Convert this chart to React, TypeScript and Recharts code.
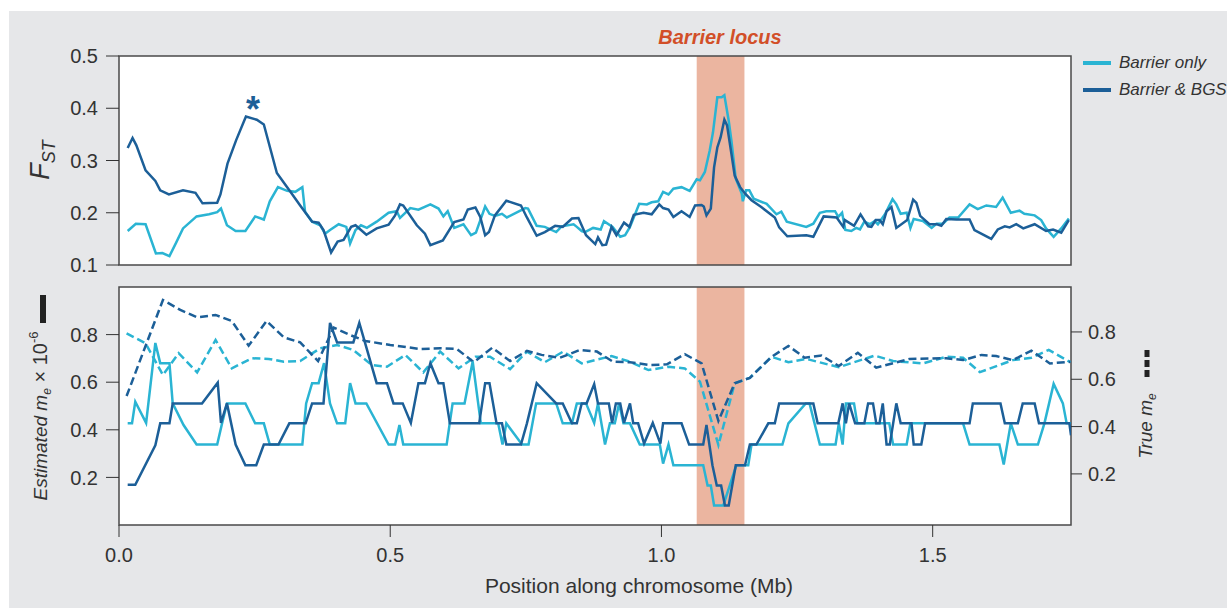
import React from 'react';
import { LineChart, Line, XAxis, YAxis, ReferenceArea } from 'recharts';

// ---- Data (x in Mb) ----
const xDomain: [number, number] = [0, 1.755];
const barrierLocus: [number, number] = [1.065, 1.153];
const fstTicks = [0.1, 0.2, 0.3, 0.4, 0.5];
const meTicks = [0.2, 0.4, 0.6, 0.8];
const posTicks = [0, 0.5, 1.0, 1.5];

const fstBarrierOnly: [number, number][] = [
  [0.016,0.165],[0.031,0.179],[0.049,0.178],[0.068,0.122],[0.080,0.123],[0.093,0.117],[0.104,0.140],[0.118,0.170],[0.143,0.193],[0.166,0.197],[0.181,0.201],[0.188,0.208],[0.199,0.176],[0.215,0.165],[0.233,0.165],[0.251,0.193],[0.267,0.187],[0.278,0.222],[0.293,0.249],[0.310,0.242],[0.325,0.240],[0.338,0.249],[0.343,0.202],[0.356,0.183],[0.371,0.176],[0.380,0.160],[0.389,0.167],[0.405,0.178],[0.419,0.173],[0.426,0.141],[0.436,0.167],[0.446,0.176],[0.457,0.171],[0.475,0.183],[0.497,0.200],[0.512,0.203],[0.518,0.190],[0.537,0.209],[0.552,0.206],[0.574,0.216],[0.589,0.208],[0.598,0.193],[0.606,0.203],[0.618,0.171],[0.635,0.178],[0.649,0.157],[0.658,0.162],[0.675,0.212],[0.683,0.198],[0.693,0.194],[0.706,0.198],[0.715,0.191],[0.749,0.209],[0.754,0.208],[0.770,0.175],[0.785,0.173],[0.806,0.163],[0.816,0.174],[0.838,0.178],[0.844,0.173],[0.853,0.165],[0.859,0.163],[0.874,0.171],[0.888,0.168],[0.894,0.184],[0.910,0.173],[0.924,0.154],[0.933,0.157],[0.942,0.173],[0.959,0.217],[0.973,0.216],[0.982,0.220],[0.994,0.222],[1.003,0.240],[1.013,0.235],[1.022,0.246],[1.037,0.249],[1.052,0.242],[1.065,0.264],[1.071,0.262],[1.080,0.278],[1.089,0.319],[1.095,0.354],[1.103,0.421],[1.111,0.421],[1.116,0.425],[1.124,0.376],[1.129,0.338],[1.137,0.265],[1.148,0.237],[1.150,0.222],[1.156,0.243],[1.162,0.243],[1.170,0.227],[1.194,0.217],[1.212,0.197],[1.221,0.202],[1.231,0.183],[1.267,0.173],[1.280,0.179],[1.292,0.200],[1.304,0.203],[1.320,0.203],[1.326,0.192],[1.333,0.200],[1.339,0.167],[1.350,0.165],[1.359,0.171],[1.366,0.168],[1.374,0.183],[1.384,0.178],[1.393,0.184],[1.399,0.178],[1.412,0.197],[1.426,0.226],[1.433,0.216],[1.441,0.198],[1.452,0.200],[1.459,0.171],[1.465,0.188],[1.482,0.184],[1.498,0.171],[1.507,0.179],[1.519,0.179],[1.531,0.191],[1.547,0.191],[1.568,0.216],[1.583,0.207],[1.599,0.214],[1.617,0.211],[1.629,0.229],[1.644,0.200],[1.660,0.204],[1.669,0.198],[1.688,0.195],[1.700,0.186],[1.709,0.170],[1.723,0.154],[1.737,0.170],[1.751,0.189],
];

const fstBarrierBgs: [number, number][] = [
  [0.016,0.324],[0.025,0.343],[0.032,0.329],[0.049,0.281],[0.067,0.261],[0.076,0.243],[0.092,0.235],[0.118,0.243],[0.141,0.238],[0.154,0.218],[0.181,0.219],[0.187,0.235],[0.200,0.294],[0.216,0.339],[0.234,0.384],[0.254,0.378],[0.267,0.369],[0.291,0.276],[0.316,0.240],[0.334,0.214],[0.356,0.183],[0.368,0.181],[0.377,0.167],[0.391,0.124],[0.403,0.145],[0.414,0.148],[0.428,0.173],[0.436,0.176],[0.456,0.158],[0.475,0.170],[0.497,0.177],[0.509,0.195],[0.518,0.216],[0.524,0.214],[0.549,0.176],[0.564,0.160],[0.574,0.138],[0.597,0.147],[0.618,0.182],[0.635,0.187],[0.643,0.206],[0.657,0.210],[0.666,0.192],[0.675,0.157],[0.682,0.163],[0.693,0.195],[0.714,0.223],[0.741,0.214],[0.752,0.191],[0.770,0.156],[0.785,0.163],[0.804,0.175],[0.818,0.173],[0.835,0.189],[0.847,0.190],[0.861,0.157],[0.878,0.140],[0.883,0.153],[0.891,0.138],[0.898,0.139],[0.908,0.173],[0.917,0.157],[0.931,0.181],[0.941,0.173],[0.949,0.196],[0.967,0.200],[0.982,0.197],[0.996,0.216],[1.003,0.209],[1.013,0.206],[1.022,0.192],[1.037,0.203],[1.052,0.192],[1.062,0.214],[1.074,0.215],[1.078,0.212],[1.083,0.195],[1.091,0.208],[1.097,0.287],[1.103,0.325],[1.109,0.344],[1.116,0.378],[1.121,0.367],[1.129,0.313],[1.135,0.271],[1.145,0.249],[1.154,0.237],[1.166,0.224],[1.184,0.211],[1.209,0.191],[1.217,0.172],[1.232,0.155],[1.267,0.157],[1.280,0.154],[1.299,0.193],[1.323,0.191],[1.335,0.173],[1.338,0.186],[1.355,0.175],[1.367,0.197],[1.381,0.174],[1.387,0.173],[1.395,0.186],[1.402,0.186],[1.408,0.178],[1.415,0.203],[1.424,0.211],[1.433,0.171],[1.453,0.186],[1.464,0.225],[1.470,0.219],[1.477,0.194],[1.494,0.178],[1.508,0.178],[1.516,0.175],[1.525,0.188],[1.544,0.187],[1.568,0.187],[1.577,0.167],[1.593,0.158],[1.608,0.150],[1.620,0.168],[1.633,0.174],[1.642,0.172],[1.654,0.178],[1.667,0.170],[1.688,0.178],[1.709,0.165],[1.722,0.168],[1.737,0.162],[1.751,0.186],
];

const estMeBarrierOnly: [number, number][] = [
  [0.016,0.427],[0.024,0.427],[0.030,0.518],[0.050,0.429],[0.067,0.765],[0.076,0.680],[0.093,0.680],[0.099,0.511],[0.119,0.420],[0.143,0.338],[0.181,0.338],[0.190,0.427],[0.199,0.511],[0.233,0.511],[0.251,0.427],[0.267,0.427],[0.278,0.338],[0.338,0.338],[0.345,0.511],[0.356,0.596],[0.368,0.596],[0.378,0.680],[0.389,0.511],[0.402,0.427],[0.417,0.427],[0.426,0.596],[0.436,0.511],[0.456,0.511],[0.497,0.338],[0.509,0.338],[0.517,0.420],[0.524,0.338],[0.604,0.338],[0.615,0.511],[0.637,0.511],[0.652,0.687],[0.667,0.427],[0.699,0.427],[0.707,0.338],[0.714,0.427],[0.743,0.338],[0.755,0.338],[0.769,0.511],[0.806,0.511],[0.818,0.427],[0.835,0.427],[0.844,0.511],[0.861,0.511],[0.876,0.429],[0.883,0.511],[0.896,0.338],[0.905,0.427],[0.914,0.427],[0.922,0.511],[0.930,0.427],[0.942,0.427],[0.960,0.338],[0.997,0.338],[1.003,0.258],[1.013,0.338],[1.022,0.251],[1.077,0.251],[1.085,0.166],[1.091,0.166],[1.097,0.082],[1.114,0.082],[1.138,0.251],[1.160,0.251],[1.166,0.338],[1.223,0.338],[1.234,0.427],[1.266,0.511],[1.273,0.511],[1.292,0.338],[1.321,0.338],[1.327,0.427],[1.334,0.338],[1.340,0.511],[1.355,0.511],[1.361,0.427],[1.420,0.427],[1.427,0.338],[1.452,0.338],[1.459,0.427],[1.556,0.427],[1.568,0.338],[1.623,0.338],[1.631,0.254],[1.644,0.427],[1.657,0.338],[1.694,0.338],[1.706,0.427],[1.723,0.593],[1.740,0.511],[1.747,0.427],[1.755,0.427],
];

const estMeBarrierBgs: [number, number][] = [
  [0.016,0.169],[0.030,0.169],[0.067,0.335],[0.076,0.427],[0.093,0.427],[0.099,0.511],[0.153,0.511],[0.182,0.598],[0.188,0.429],[0.199,0.511],[0.215,0.338],[0.233,0.251],[0.253,0.251],[0.267,0.338],[0.294,0.338],[0.314,0.427],[0.344,0.427],[0.356,0.511],[0.377,0.511],[0.389,0.849],[0.402,0.767],[0.432,0.767],[0.443,0.849],[0.475,0.596],[0.494,0.596],[0.506,0.511],[0.523,0.511],[0.538,0.429],[0.552,0.596],[0.564,0.596],[0.574,0.680],[0.589,0.596],[0.598,0.596],[0.610,0.427],[0.664,0.427],[0.675,0.596],[0.683,0.596],[0.696,0.427],[0.706,0.427],[0.714,0.338],[0.741,0.338],[0.752,0.427],[0.770,0.596],[0.806,0.511],[0.818,0.511],[0.835,0.427],[0.844,0.427],[0.853,0.511],[0.862,0.511],[0.876,0.592],[0.883,0.511],[0.903,0.511],[0.909,0.429],[0.916,0.511],[0.924,0.511],[0.931,0.429],[0.942,0.511],[0.948,0.427],[0.957,0.427],[0.968,0.342],[0.984,0.429],[0.998,0.342],[1.003,0.427],[1.037,0.427],[1.051,0.338],[1.077,0.338],[1.083,0.420],[1.094,0.251],[1.102,0.166],[1.110,0.166],[1.117,0.082],[1.124,0.082],[1.137,0.251],[1.154,0.251],[1.163,0.338],[1.175,0.338],[1.197,0.427],[1.209,0.427],[1.217,0.511],[1.280,0.511],[1.288,0.427],[1.326,0.427],[1.334,0.511],[1.340,0.427],[1.346,0.511],[1.357,0.427],[1.374,0.427],[1.381,0.511],[1.390,0.511],[1.396,0.427],[1.402,0.427],[1.408,0.511],[1.415,0.338],[1.421,0.338],[1.433,0.511],[1.441,0.427],[1.461,0.427],[1.465,0.338],[1.479,0.338],[1.486,0.427],[1.568,0.427],[1.574,0.511],[1.625,0.511],[1.633,0.427],[1.657,0.427],[1.666,0.511],[1.688,0.511],[1.696,0.427],[1.752,0.427],[1.755,0.377],
];

const trueMeBarrierOnly: [number, number][] = [
  [0.014,0.794],[0.049,0.752],[0.081,0.618],[0.110,0.710],[0.144,0.629],[0.178,0.766],[0.208,0.646],[0.245,0.689],[0.276,0.686],[0.304,0.674],[0.334,0.677],[0.371,0.731],[0.402,0.745],[0.432,0.724],[0.466,0.660],[0.494,0.653],[0.528,0.703],[0.561,0.629],[0.592,0.717],[0.626,0.646],[0.657,0.695],[0.684,0.695],[0.721,0.643],[0.752,0.717],[0.785,0.672],[0.819,0.717],[0.853,0.667],[0.908,0.698],[0.942,0.674],[0.976,0.639],[1.013,0.653],[1.043,0.646],[1.071,0.590],[1.105,0.322],[1.135,0.583],[1.163,0.606],[1.203,0.695],[1.234,0.672],[1.267,0.686],[1.327,0.651],[1.393,0.700],[1.427,0.677],[1.482,0.667],[1.525,0.695],[1.556,0.691],[1.587,0.630],[1.648,0.681],[1.682,0.691],[1.714,0.724],[1.754,0.672],
];

const trueMeBarrierBgs: [number, number][] = [
  [0.014,0.529],[0.081,0.935],[0.113,0.893],[0.144,0.862],[0.178,0.872],[0.208,0.846],[0.239,0.742],[0.272,0.846],[0.304,0.777],[0.334,0.756],[0.367,0.677],[0.396,0.818],[0.426,0.787],[0.454,0.762],[0.500,0.745],[0.555,0.728],[0.592,0.731],[0.623,0.728],[0.654,0.672],[0.688,0.733],[0.721,0.677],[0.752,0.720],[0.779,0.703],[0.813,0.691],[0.850,0.724],[0.881,0.717],[0.911,0.674],[0.942,0.672],[0.979,0.660],[1.010,0.663],[1.043,0.706],[1.074,0.667],[1.105,0.424],[1.135,0.583],[1.163,0.606],[1.203,0.695],[1.234,0.741],[1.264,0.691],[1.295,0.700],[1.327,0.656],[1.362,0.712],[1.396,0.649],[1.457,0.686],[1.525,0.689],[1.556,0.681],[1.590,0.703],[1.617,0.698],[1.648,0.681],[1.682,0.721],[1.716,0.667],[1.754,0.674],
];

// ---- Styling ----
const LIGHT = '#2ab4d3';
const DARK = '#1c5f98';
const BAND = '#ebb5a0';
const FRAME = '#4a4a4a';
const TXT = '#333333';
const FONT = '"Liberation Sans", Arial, Helvetica, sans-serif';

const toPts = (arr: [number, number][]) => arr.map(([x, y]) => ({ x, y }));
const fmt1 = (v: number) => v.toFixed(1);

const tickStyle = { fill: TXT, fontSize: 20, fontFamily: FONT };

export default function App() {
  return (
    <div style={{ position: 'absolute', left: 0, top: 0, width: 1227, height: 608, overflow: 'hidden', background: '#ffffff', fontFamily: FONT }}>
      <div style={{ position: 'absolute', left: 9, top: 11, right: 0, bottom: 0, background: '#e6e7e9' }} />

      {/* Top panel: FST */}
      <div style={{ position: 'absolute', left: 0, top: 0 }}>
        <LineChart width={1227} height={300} margin={{ top: 56, right: 156, bottom: 35, left: 59 }}>
          <XAxis type="number" dataKey="x" domain={xDomain} hide allowDataOverflow />
          <YAxis type="number" domain={[0.1, 0.5]} ticks={fstTicks} width={60} tickSize={13} tickMargin={8}
            axisLine={false} tickLine={{ stroke: TXT }} tick={tickStyle} tickFormatter={fmt1} allowDataOverflow />
          <ReferenceArea x1={xDomain[0]} x2={xDomain[1]} y1={0.1} y2={0.5} fill="#ffffff" fillOpacity={1} stroke="none" />
          <ReferenceArea x1={barrierLocus[0]} x2={barrierLocus[1]} y1={0.1} y2={0.5} fill={BAND} fillOpacity={1} stroke="none" />
          <Line data={toPts(fstBarrierOnly)} dataKey="y" type="linear" stroke={LIGHT} strokeWidth={2.5} dot={false} isAnimationActive={false} />
          <Line data={toPts(fstBarrierBgs)} dataKey="y" type="linear" stroke={DARK} strokeWidth={2.5} dot={false} isAnimationActive={false} />
          <ReferenceArea x1={xDomain[0]} x2={xDomain[1]} y1={0.1} y2={0.5} fill="none" stroke={FRAME} strokeWidth={1.5} />
        </LineChart>
      </div>

      {/* Bottom panel: m_e */}
      <div style={{ position: 'absolute', left: 0, top: 270 }}>
        <LineChart width={1227} height={338} margin={{ top: 17, right: 96, bottom: 43, left: 59 }}>
          <XAxis type="number" dataKey="x" domain={xDomain} ticks={posTicks} tickFormatter={fmt1} height={40}
            tickSize={12} tickMargin={11} axisLine={false} tickLine={{ stroke: TXT }} tick={tickStyle} allowDataOverflow />
          <YAxis yAxisId="left" type="number" domain={[0, 1.0]} ticks={meTicks} width={60} tickSize={13} tickMargin={8}
            axisLine={false} tickLine={{ stroke: TXT }} tick={tickStyle} tickFormatter={fmt1} allowDataOverflow />
          <YAxis yAxisId="right" orientation="right" type="number" domain={[-0.016, 0.99]} ticks={meTicks} width={60}
            tickSize={11} tickMargin={6} axisLine={false} tickLine={{ stroke: TXT }} tick={tickStyle} tickFormatter={fmt1} allowDataOverflow />
          <ReferenceArea yAxisId="left" x1={xDomain[0]} x2={xDomain[1]} y1={0} y2={1} fill="#ffffff" fillOpacity={1} stroke="none" />
          <ReferenceArea yAxisId="left" x1={barrierLocus[0]} x2={barrierLocus[1]} y1={0} y2={1} fill={BAND} fillOpacity={1} stroke="none" />
          <Line yAxisId="right" data={toPts(trueMeBarrierOnly)} dataKey="y" type="linear" stroke={LIGHT} strokeWidth={2.5} strokeDasharray="8 4" dot={false} isAnimationActive={false} />
          <Line yAxisId="right" data={toPts(trueMeBarrierBgs)} dataKey="y" type="linear" stroke={DARK} strokeWidth={2.5} strokeDasharray="8 4" dot={false} isAnimationActive={false} />
          <Line yAxisId="left" data={toPts(estMeBarrierOnly)} dataKey="y" type="linear" stroke={LIGHT} strokeWidth={2.5} dot={false} isAnimationActive={false} />
          <Line yAxisId="left" data={toPts(estMeBarrierBgs)} dataKey="y" type="linear" stroke={DARK} strokeWidth={2.5} dot={false} isAnimationActive={false} />
          <ReferenceArea yAxisId="left" x1={xDomain[0]} x2={xDomain[1]} y1={0} y2={1} fill="none" stroke={FRAME} strokeWidth={1.5} />
        </LineChart>
      </div>

      {/* Barrier locus title */}
      <div style={{ position: 'absolute', left: 720, top: 37, transform: 'translate(-50%, -50%)', color: '#d24f28', fontWeight: 'bold', fontStyle: 'italic', fontSize: 20, whiteSpace: 'nowrap' }}>
        Barrier locus
      </div>

      {/* Asterisk over the BGS peak */}
      <div style={{ position: 'absolute', left: 253, top: 110, transform: 'translate(-50%, -50%)', color: DARK, fontWeight: 'bold', fontSize: 36, lineHeight: '36px' }}>
        *
      </div>

      {/* Legend */}
      <div style={{ position: 'absolute', left: 1083, top: 61, width: 28, height: 4, background: LIGHT }} />
      <div style={{ position: 'absolute', left: 1119, top: 63, transform: 'translateY(-50%)', fontStyle: 'italic', fontSize: 17, color: TXT, whiteSpace: 'nowrap' }}>Barrier only</div>
      <div style={{ position: 'absolute', left: 1083, top: 88, width: 28, height: 4, background: DARK }} />
      <div style={{ position: 'absolute', left: 1119, top: 90, transform: 'translateY(-50%)', fontStyle: 'italic', fontSize: 17, color: TXT, whiteSpace: 'nowrap' }}>Barrier &amp; BGS</div>

      {/* F_ST label */}
      <div style={{ position: 'absolute', left: 40, top: 160, transform: 'translate(-50%, -50%) rotate(-90deg)', color: TXT, whiteSpace: 'nowrap', lineHeight: 1, fontStyle: 'italic' }}>
        <span style={{ fontSize: 27 }}>F</span>
        <span style={{ fontSize: 18, position: 'relative', top: 6 }}>ST</span>
      </div>

      {/* Estimated m_e label */}
      <div style={{ position: 'absolute', left: 40, top: 416, transform: 'translate(-50%, -50%) rotate(-90deg)', color: TXT, whiteSpace: 'nowrap', lineHeight: 1, fontSize: 19 }}>
        <span style={{ fontStyle: 'italic' }}>Estimated m</span>
        <span style={{ fontStyle: 'italic', fontSize: 12, position: 'relative', top: 4 }}>e</span>
        <span style={{ fontSize: 20 }}> × 10</span>
        <span style={{ fontSize: 13, position: 'relative', top: -9 }}>-6</span>
      </div>
      <div style={{ position: 'absolute', left: 40, top: 295, width: 6, height: 28, background: '#222' }} />

      {/* True m_e label */}
      <div style={{ position: 'absolute', left: 1145, top: 426, transform: 'translate(-50%, -50%) rotate(-90deg)', color: TXT, whiteSpace: 'nowrap', lineHeight: 1, fontSize: 19 }}>
        <span style={{ fontStyle: 'italic' }}>True m</span>
        <span style={{ fontStyle: 'italic', fontSize: 12, position: 'relative', top: 4 }}>e</span>
      </div>
      <svg style={{ position: 'absolute', left: 1142, top: 350 }} width={10} height={30}>
        <line x1={5} y1={0} x2={5} y2={30} stroke="#222" strokeWidth={5} strokeDasharray="7 3" />
      </svg>

      {/* X axis title */}
      <div style={{ position: 'absolute', left: 639, top: 586, transform: 'translate(-50%, -50%)', color: TXT, fontSize: 21, whiteSpace: 'nowrap' }}>
        Position along chromosome (Mb)
      </div>
    </div>
  );
}
